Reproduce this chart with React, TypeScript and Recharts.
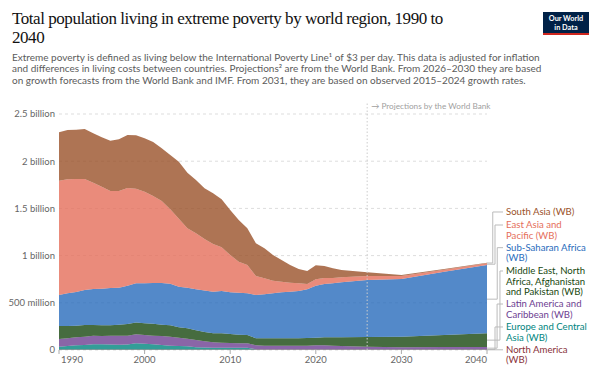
import { AreaChart, Area, XAxis, YAxis, CartesianGrid, ReferenceLine } from 'recharts'

// values in millions of people
const YEARS = [
  1990, 1991, 1992, 1993, 1994, 1995, 1996, 1997, 1998, 1999,
  2000, 2001, 2002, 2003, 2004, 2005, 2006, 2007, 2008, 2009,
  2010, 2011, 2012, 2013, 2014, 2015, 2016, 2017, 2018, 2019,
  2020, 2021, 2022, 2023, 2026, 2030, 2035, 2040,
]

const NORTH_AMERICA = [
  4, 4, 4, 4, 4, 4, 4, 4, 4, 4,
  4, 4, 4, 4, 4, 4, 4, 4, 4, 4,
  4, 4, 4, 4, 4, 4, 4, 4, 4, 4,
  4, 4, 4, 4, 4, 4, 4, 4,
]
const EUROPE_CENTRAL_ASIA = [
  31, 38, 45, 49, 56, 56, 54, 52, 54, 67,
  63, 56, 49, 42, 38, 35, 26, 23, 21, 21,
  21, 21, 20, 4, 4, 4, 4, 4, 4, 4,
  4, 4, 4, 4, 3, 3, 3, 3,
]
const LATIN_AMERICA = [
  82, 82, 85, 88, 92, 88, 94, 94, 92, 95,
  92, 92, 95, 95, 89, 81, 76, 65, 56, 53,
  49, 46, 47, 41, 38, 38, 38, 38, 38, 38,
  41, 41, 38, 34, 28, 23, 24, 25,
]
const MIDDLE_EAST = [
  137, 130, 124, 124, 113, 113, 109, 118, 125, 124,
  124, 127, 120, 120, 109, 110, 102, 98, 96, 99,
  95, 91, 88, 75, 78, 78, 78, 78, 78, 81,
  82, 85, 88, 92, 103, 111, 127, 145,
]
const SUB_SAHARAN = [
  329, 346, 356, 371, 381, 389, 396, 392, 406, 416,
  423, 431, 442, 442, 431, 430, 435, 440, 441, 448,
  442, 445, 441, 459, 466, 476, 487, 494, 501, 516,
  550, 565, 572, 583, 604, 611, 671, 723,
]
const EAST_ASIA = [
  1210, 1208, 1197, 1175, 1126, 1080, 1027, 1024, 1035, 1003,
  971, 921, 868, 787, 720, 629, 593, 545, 505, 463,
  395, 328, 300, 201, 170, 134, 113, 95, 81, 56,
  68, 64, 57, 53, 42, 32, 22, 18,
]
const SOUTH_ASIA = [
  513, 522, 522, 530, 523, 523, 533, 548, 561, 565,
  565, 572, 558, 576, 604, 589, 565, 538, 537, 508,
  477, 442, 389, 346, 317, 272, 229, 187, 152, 138,
  148, 127, 102, 77, 39, 10, 7, 7,
]

const Y_TICKS = [0, 500, 1000, 1500, 2000, 2500]
const X_TICKS = [1990, 2000, 2010, 2020, 2030, 2040]
const PROJECTION_START = 2026

// bottom of the stack first
const SERIES = [
  { key: 'na', values: NORTH_AMERICA, color: '#883039', lines: ['North America', '(WB)'], labelAt: 2, bendAt: 0.5 },
  { key: 'eca', values: EUROPE_CENTRAL_ASIA, color: '#00847E', lines: ['Europe and Central', 'Asia (WB)'], labelAt: 244, bendAt: 0.5 },
  { key: 'lac', values: LATIN_AMERICA, color: '#6D3E91', lines: ['Latin America and', 'Caribbean (WB)'], labelAt: 487, bendAt: 0.63 },
  { key: 'mena', values: MIDDLE_EAST, color: '#18470F', lines: ['Middle East, North', 'Africa, Afghanistan', 'and Pakistan (WB)'], labelAt: 837, bendAt: 0.81 },
  { key: 'ssa', values: SUB_SAHARAN, color: '#286BBB', lines: ['Sub-Saharan Africa', '(WB)'], labelAt: 1084, bendAt: 0.64 },
  { key: 'eap', values: EAST_ASIA, color: '#E56E5A', lines: ['East Asia and', 'Pacific (WB)'], labelAt: 1324, bendAt: 0.5 },
  { key: 'sa', values: SOUTH_ASIA, color: '#9A5129', lines: ['South Asia (WB)'], labelAt: 1462, bendAt: 0.36 },
]

const data = YEARS.map((year, i) => {
  const row: Record<string, number> = { year }
  SERIES.forEach((s) => {
    row[s.key] = s.values[i]
  })
  return row
})

// middle of each band at the last year, for the label connectors
const last = YEARS.length - 1
let running = 0
const bandMids = SERIES.map((s) => {
  const mid = running + s.values[last] / 2
  running += s.values[last]
  return mid
})

const FONT = 'Lato, "Noto Sans", sans-serif'

function formatY(v: number) {
  if (v === 0) return '0'
  if (v < 1000) return `${v} million`
  return `${v / 1000} billion`
}

function YearTick(props: any) {
  const { x, y, payload } = props
  const v = payload.value
  const anchor = v === X_TICKS[0] ? 'start' : v === X_TICKS[X_TICKS.length - 1] ? 'end' : 'middle'
  return (
    <text x={v === X_TICKS[0] ? x + 2 : x} y={y} dy="0.71em" textAnchor={anchor} fontSize={9.5} fill="#666" fontFamily={FONT}>
      {v}
    </text>
  )
}

function ValueTick(props: any) {
  const { x, y, payload } = props
  return (
    <text x={x} y={y} dy="0.35em" textAnchor="end" fontSize={9.5} fill="#666" fontFamily={FONT}>
      {formatY(payload.value)}
    </text>
  )
}

function Connector(props: any) {
  const { x1, y1, x2, y2, bendAt, lines, color } = props
  if (x1 == null || y1 == null) return null
  const vx = x1 + (x2 - x1) * bendAt
  const d = Math.abs(y2 - y1) < 1 ? `M${x1},${y1}H${x2}` : `M${x1},${y1}H${vx}V${y2}H${x2}`
  return (
    <g>
      <path d={d} fill="none" stroke="#bbb" strokeWidth={1} />
      <text x={x2 + 3} y={y2} fontSize={9.6} fill={color} fontFamily={FONT}>
        {lines.map((l: string, i: number) => (
          <tspan key={i} x={x2 + 3} dy={i === 0 ? '0.35em' : 10.2}>
            {l}
          </tspan>
        ))}
      </text>
    </g>
  )
}

export default function App() {
  return (
    <div style={{ position: 'relative', width: 600, height: 373, background: '#fff', overflow: 'hidden' }}>
      <style>{'body{margin:0}'}</style>

      <AreaChart
        width={600}
        height={373}
        data={data}
        margin={{ top: 114, right: 113, bottom: 0, left: 0 }}
        style={{ position: 'absolute', left: 0, top: 0 }}
      >
        <CartesianGrid vertical={false} stroke="#ddd" strokeDasharray="3 3" />
        <XAxis
          dataKey="year"
          type="number"
          domain={[1990, 2040]}
          ticks={X_TICKS}
          height={23}
          axisLine={false}
          tickSize={4}
          tickMargin={2}
          tickLine={{ stroke: '#aaa' }}
          tick={<YearTick />}
        />
        <YAxis
          domain={[0, 2500]}
          ticks={Y_TICKS}
          width={59}
          axisLine={false}
          tickLine={false}
          tickSize={0}
          tickMargin={4}
          tick={<ValueTick />}
        />
        {SERIES.map((s) => (
          <Area
            key={s.key}
            type="linear"
            dataKey={s.key}
            stackId="1"
            stroke="none"
            fill={s.color}
            fillOpacity={0.8}
            isAnimationActive={false}
          />
        ))}
        <ReferenceLine
          segment={[
            { x: PROJECTION_START, y: 0 },
            { x: PROJECTION_START, y: 2615 },
          ]}
          ifOverflow="visible"
          stroke="#ccc"
          strokeDasharray="1.5 2"
          label={(p: any) => {
            const vb = p.viewBox || {}
            return (
              <text x={(vb.x ?? 0) + 4} y={(vb.y ?? 0) + 3} dy="0.35em" fontSize={8.2} fill="#a0a0a0" fontFamily={FONT}>
                → Projections by the World Bank
              </text>
            )
          }}
        />
        {SERIES.map((s, i) => (
          <ReferenceLine
            key={`c-${s.key}`}
            segment={[
              { x: 2040, y: bandMids[i] },
              { x: 2041.87, y: s.labelAt },
            ]}
            ifOverflow="visible"
            shape={(p: any) => <Connector {...p} bendAt={s.bendAt} lines={s.lines} color={s.color} />}
          />
        ))}
      </AreaChart>

      <div
        style={{
          position: 'absolute',
          left: 12,
          top: 10,
          fontFamily: '"Liberation Serif", "DejaVu Serif", serif',
          fontSize: 17,
          letterSpacing: '-0.45px',
          lineHeight: '18.5px',
          color: '#111',
          whiteSpace: 'nowrap',
        }}
      >
        <div>Total population living in extreme poverty by world region, 1990 to</div>
        <div>2040</div>
      </div>

      <div
        style={{
          position: 'absolute',
          left: 12,
          top: 52,
          fontFamily: FONT,
          fontSize: 10,
          lineHeight: '11.3px',
          color: '#5b5b5b',
          whiteSpace: 'nowrap',
        }}
      >
        <div>
          Extreme poverty is defined as living below the International Poverty Line¹ of $3 per day. This data is adjusted for inflation
        </div>
        <div>
          and differences in living costs between countries. Projections² are from the World Bank. From 2026–2030 they are based
        </div>
        <div>on growth forecasts from the World Bank and IMF. From 2031, they are based on observed 2015–2024 growth rates.</div>
      </div>

      <div
        style={{
          position: 'absolute',
          left: 543,
          top: 12,
          width: 46,
          height: 23,
          background: '#002147',
          borderBottom: '2px solid #CE261E',
          color: '#fff',
          fontFamily: FONT,
          fontWeight: 700,
          fontSize: 7.3,
          lineHeight: '8.5px',
          textAlign: 'center',
          paddingTop: 3,
          boxSizing: 'border-box',
        }}
      >
        <div>Our World</div>
        <div>in Data</div>
      </div>
    </div>
  )
}
